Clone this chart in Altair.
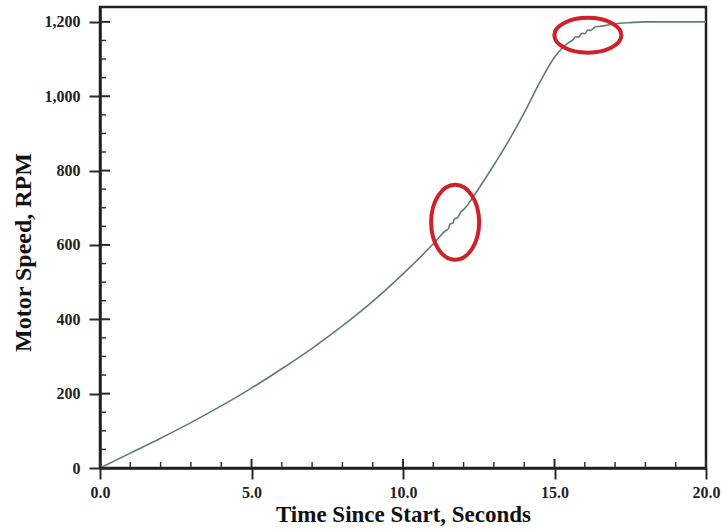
import altair as alt
import pandas as pd

# ---- data ----
time_s = [0, 1, 2, 3, 4, 5, 6, 7, 8, 9, 10, 11, 11.4, 11.5, 11.55, 11.65, 11.7, 11.8, 11.9, 12.0,
          12.5, 13, 13.5, 14, 14.5, 15, 15.5, 15.6, 15.7, 15.8, 15.9, 16.0, 16.1, 16.2, 16.35, 16.5,
          17, 17.5, 18, 19, 20]
speed_rpm = [0, 40, 80, 122, 167, 215, 267, 322, 382, 448, 522, 603, 638, 644, 656, 659, 670, 673, 688, 695,
             752, 815, 882, 955, 1035, 1105, 1146, 1151, 1160, 1159, 1169, 1168, 1178, 1177, 1187, 1188,
             1195, 1198, 1200, 1200, 1200]

# highlighted regions (centres)
mark_t = [11.72, 16.1]
mark_rpm = [661, 1164]
mark_shape = [
    "M -0.64 0 A 0.64 1 0 1 0 0.64 0 A 0.64 1 0 1 0 -0.64 0 Z",
    "M -1 0 A 1 0.52 0 1 0 1 0 A 1 0.52 0 1 0 -1 0 Z",
]
mark_size = [5625, 4489]

x_major = [0.0, 5.0, 10.0, 15.0, 20.0]
x_minor = [t for t in range(0, 21) if t % 5 != 0]
y_major = [0, 200, 400, 600, 800, 1000, 1200]
y_minor = [v for v in range(50, 1201, 50) if v % 200 != 0]

W, H = 606, 461
FONT = "Liberation Serif"
TICK = "#2a2a2a"

df = pd.DataFrame({"t": time_s, "rpm": speed_rpm})
xs = alt.Scale(domain=[0, 20], nice=False)
ys = alt.Scale(domain=[0, 1240], nice=False)

line = alt.Chart(df).mark_line(color="#5e7d76", strokeWidth=1.6, interpolate="monotone").encode(
    x=alt.X("t:Q", scale=xs,
            axis=alt.Axis(title="Time Since Start, Seconds", values=x_major, format=".1f",
                          grid=False, ticks=True, tickSize=11, tickWidth=2, tickColor=TICK,
                          domainColor="#222", domainWidth=2.5,
                          labelFont=FONT, labelFontSize=16,
                          labelFontWeight="bold", labelColor="#222", labelPadding=5,
                          labelFlush=False, labelOverlap=False,
                          titleFont=FONT, titleFontSize=23, titleFontWeight="bold",
                          titleColor="#111", titlePadding=3)),
    y=alt.Y("rpm:Q", scale=ys,
            axis=alt.Axis(title="Motor Speed, RPM", values=y_major, format=",.0f",
                          grid=False, ticks=True, tickSize=11, tickWidth=2, tickColor=TICK,
                          domainColor="#222", domainWidth=2.5,
                          labelFont=FONT, labelFontSize=16,
                          labelFontWeight="bold", labelColor="#222", labelPadding=9,
                          labelFlush=False, labelOverlap=False,
                          titleFont=FONT, titleFontSize=24, titleFontWeight="bold",
                          titleColor="#111", titlePadding=9, titleY=245)),
)

# inward tick halves drawn as rules
xmaj = alt.Chart(pd.DataFrame({"tx": x_major})).mark_rule(color=TICK, strokeWidth=2).encode(
    x=alt.X("tx:Q", scale=xs), y=alt.value(H - 9), y2=alt.value(H))
xmin = alt.Chart(pd.DataFrame({"t": x_minor})).mark_rule(color=TICK, strokeWidth=1.4).encode(
    x=alt.X("t:Q", scale=xs), y=alt.value(H), y2=alt.value(H - 6))
ymaj = alt.Chart(pd.DataFrame({"vy": y_major})).mark_rule(color=TICK, strokeWidth=2).encode(
    y=alt.Y("vy:Q", scale=ys), x=alt.value(0), x2=alt.value(10))
ymin = alt.Chart(pd.DataFrame({"v": y_minor})).mark_rule(color=TICK, strokeWidth=1.4).encode(
    y=alt.Y("v:Q", scale=ys), x=alt.value(0), x2=alt.value(6))

ell_layers = []
for i in range(len(mark_t)):
    ell_layers.append(
        alt.Chart(pd.DataFrame({"t": [mark_t[i]], "rpm": [mark_rpm[i]]}))
        .mark_point(shape=mark_shape[i], size=mark_size[i], filled=False,
                    stroke="#d0202a", strokeWidth=4, opacity=1)
        .encode(x=alt.X("t:Q", scale=xs), y=alt.Y("rpm:Q", scale=ys))
    )

chart = alt.layer(line, xmaj, xmin, ymaj, ymin, *ell_layers).properties(
    width=W, height=H,
    autosize=alt.AutoSizeParams(type="none"),
    padding={"left": 100, "top": 7, "right": 17, "bottom": 61},
    background="white",
).configure_view(stroke="#222", strokeWidth=2.5)

chart.save("out.html", embed_options={"renderer": "svg", "actions": False})
